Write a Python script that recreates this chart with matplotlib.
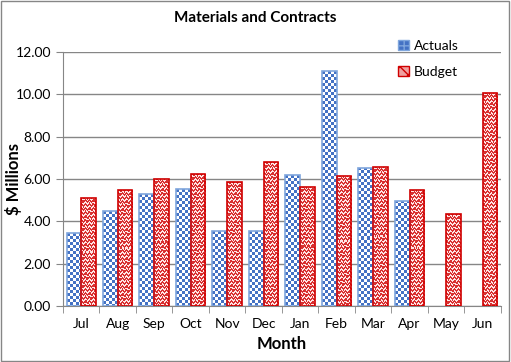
import numpy as np
import matplotlib.pyplot as plt
from matplotlib.patches import Patch
from matplotlib.ticker import FixedLocator, FormatStrFormatter

plt.rcParams['font.family'] = ['Lato', 'DejaVu Sans']

months = ['Jul', 'Aug', 'Sep', 'Oct', 'Nov', 'Dec', 'Jan', 'Feb', 'Mar', 'Apr', 'May', 'Jun']
actuals = [3.43, 4.49, 5.29, 5.53, 3.53, 3.54, 6.17, 11.09, 6.54, 4.97, np.nan, np.nan]
budget = [5.11, 5.46, 6.01, 6.22, 5.86, 6.79, 5.64, 6.16, 6.58, 5.49, 4.35, 10.08]

W, H = 511, 362
fig = plt.figure(figsize=(W/100, H/100), dpi=100)
ax = fig.add_axes([0.123, 0.155, 0.857, 0.701])

x = np.arange(len(months))
w = 0.4
ymax = 12
blue = np.array([0x44, 0x72, 0xC4]) / 255
red = np.array([0xD8, 0x30, 0x30]) / 255
px_x = 0.857*W/len(months)   # pixels per category
px_y = 0.701*H/ymax          # pixels per unit


def checker(nr, nc, cell=3):
    r = np.arange(nr)[:, None] // cell
    c = np.arange(nc)[None, :] // cell
    return (r + c) % 2 == 0


def zigzag(nr, nc):
    r = np.arange(nr)[:, None]
    c = np.arange(nc)[None, :]
    a = ((r + np.abs((c % 4) - 2)) % 4) < 2
    b = ((r + 2*c) % 7) == 0
    return a | b


def fill_pattern(bars, vals, col, bg, func):
    for b, v in zip(bars, vals):
        if np.isnan(v):
            continue
        nc = max(int(round(b.get_width()*px_x)), 1)
        nr = max(int(round(v*px_y)), 1)
        m = func(nr, nc)
        img = np.ones((nr, nc, 3))
        img[m] = col
        img[~m] = bg
        im = ax.imshow(img, extent=(b.get_x(), b.get_x()+b.get_width(), 0, v),
                       aspect='auto', interpolation='nearest', zorder=3, origin='upper')
        im.set_clip_path(b)


b1 = ax.bar(x - w/2, actuals, w, facecolor='none', edgecolor='#7FA6DD', linewidth=1.2, label='Actuals', zorder=4)
b2 = ax.bar(x + w/2, budget, w, facecolor='none', edgecolor='#D00000', linewidth=1.2, label='Budget', zorder=4)
fill_pattern(b1, actuals, blue, (1, 1, 1), checker)
fill_pattern(b2, budget, red, (1.0, 0.9, 0.9), zigzag)

ax.set_xlim(-0.5, len(months) - 0.5)
ax.set_ylim(0, ymax)
ax.set_yticks(np.arange(0, 12.01, 2))
ax.yaxis.set_major_formatter(FormatStrFormatter('%.2f'))
ax.set_xticks(x)
ax.set_xticklabels(months)
ax.xaxis.set_minor_locator(FixedLocator(np.arange(-0.5, len(months), 1)))
ax.tick_params(axis='x', which='major', length=0, labelsize=10, pad=9)
ax.tick_params(axis='x', which='minor', length=5, color='#868686')
ax.tick_params(axis='y', length=5, color='#868686', labelsize=10)
ax.grid(axis='y', color='#868686', linewidth=1, zorder=0)
for s in ['top', 'right']:
    ax.spines[s].set_visible(False)
ax.spines['left'].set_color('#868686')
ax.spines['bottom'].set_color('#868686')

ax.set_xlabel('Month', fontsize=12, fontweight='bold', labelpad=4)
ax.set_ylabel('$ Millions', fontsize=12, fontweight='bold')
ax.yaxis.set_label_coords(-0.093, 0.5)
fig.suptitle('Materials and Contracts', fontsize=11, fontweight='bold', y=0.97)

h1 = Patch(facecolor='#4472C4', edgecolor='#7FA6DD', hatch='++', label='Actuals')
h2 = Patch(facecolor='#F0A0A0', edgecolor='#D00000', hatch='xx', label='Budget')
fig.legend(handles=[h1, h2], loc='upper left', bbox_to_anchor=(0.755, 0.925), frameon=False,
           fontsize=10, handlelength=0.8, handleheight=0.8, handletextpad=0.3, labelspacing=1.0)

fig.patches.append(plt.Rectangle((0.002, 0.003), 0.995, 0.993, transform=fig.transFigure,
                                 fill=False, edgecolor='#868686', linewidth=1))

fig.savefig('out.png', dpi=100)
